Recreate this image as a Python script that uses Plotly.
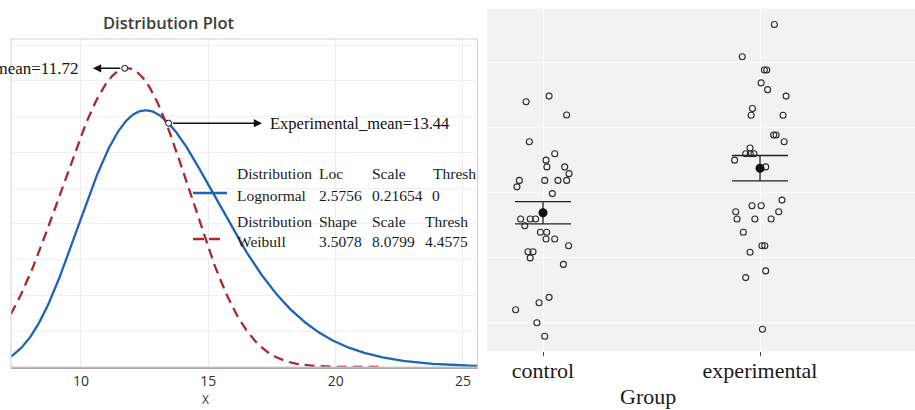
import numpy as np
import plotly.graph_objects as go

# ---------------- data ----------------
# Left panel: fitted distributions (Minitab distribution plot)
dist_names = ["Lognormal", "Weibull"]
lognormal_params = [2.5756, 0.21654, 0.0]     # loc, scale, thresh
weibull_params = [3.5078, 8.0799, 4.4575]     # shape, scale, thresh
lognormal_row = ["Lognormal", "2.5756", "0.21654", "0"]
weibull_row = ["Weibull", "3.5078", "8.0799", "4.4575"]
lognormal_header = ["Distribution", "Loc", "Scale", "Thresh"]
weibull_header = ["Distribution", "Shape", "Scale", "Thresh"]
group_means = [11.72, 13.44]
mean_labels = ["Control_mean=11.72", "Experimental_mean=13.44"]
x_ticks = [10, 15, 20, 25]

# Right panel: jittered observations with mean +/- SE
groups = ["control", "experimental"]
control_values = [16.0, 16.22, 15.49, 14.46, 14.0, 13.75, 13.49, 13.49, 13.23,
                  12.97, 12.97, 12.97, 12.97, 12.72, 12.46, 11.48, 11.48, 11.48,
                  11.22, 10.97, 10.97, 10.71, 10.71, 10.45, 10.22, 10.22, 9.98,
                  9.73, 8.46, 8.25, 7.98, 7.48, 6.96]
control_jitter = [-0.078, 0.028, 0.109, -0.063, 0.054, 0.014, 0.018, 0.100, 0.120,
                  -0.109, 0.008, 0.069, 0.109, -0.120, 0.043, -0.103, -0.059, -0.034,
                  -0.084, -0.012, 0.017, 0.014, 0.054, 0.118, -0.069, -0.046, -0.059,
                  0.094, 0.028, -0.018, -0.126, -0.028, 0.008]
experimental_values = [18.98, 17.74, 17.23, 17.23, 16.73, 16.47, 16.22, 15.74, 15.48,
                       15.48, 14.72, 14.72, 14.46, 14.22, 14.0, 14.0, 14.0, 13.75,
                       13.49, 12.21, 11.99, 11.99, 11.76, 11.76, 11.48, 11.48, 11.48,
                       10.97, 10.45, 10.45, 10.20, 9.48, 9.22, 7.23]
experimental_jitter = [0.066, -0.082, 0.020, 0.031, 0.005, 0.035, 0.120, -0.035, -0.041,
                       0.106, 0.063, 0.074, 0.111, -0.046, -0.066, -0.045, -0.028, -0.117,
                       0.026, 0.101, -0.037, 0.005, -0.112, 0.086, -0.106, -0.024, 0.051,
                       -0.077, 0.009, 0.022, -0.046, 0.026, -0.066, 0.011]
summary_means = [11.72, 13.44]
summary_se = [0.43, 0.49]
y2_grid = [7.5, 10, 12.5, 15, 17.5]

# ---------------- helpers ----------------
W, H = 915, 410


def px(p):
    return p / W


def py(p):
    return 1 - p / H


def lognormal_pdf(x, mu, s, th):
    z = x - th
    return np.exp(-(np.log(z) - mu) ** 2 / (2 * s * s)) / (z * s * np.sqrt(2 * np.pi))


def weibull_pdf(x, k, lam, th):
    z = (x - th) / lam
    return (k / lam) * z ** (k - 1) * np.exp(-z ** k)


BLUE = "#1f64b4"
RED = "#a8282c"
SERIF = "Liberation Serif"

fig = go.Figure()

# ---------------- left panel ----------------
xl = np.linspace(7.0, 25.8, 500)
fig.add_trace(go.Scatter(x=xl, y=lognormal_pdf(xl, *lognormal_params), mode="lines",
                         line=dict(color=BLUE, width=2.3), xaxis="x", yaxis="y",
                         name=dist_names[0], showlegend=False, hoverinfo="skip"))
xw = np.linspace(5.0, 21.8, 400)
fig.add_trace(go.Scatter(x=xw, y=weibull_pdf(xw, *weibull_params), mode="lines",
                         line=dict(color=RED, width=2.3, dash="10px,6px"), xaxis="x", yaxis="y",
                         name=dist_names[1], showlegend=False, hoverinfo="skip"))

y_ctrl = float(weibull_pdf(group_means[0], *weibull_params))
y_exp = float(lognormal_pdf(group_means[1], *lognormal_params))
fig.add_trace(go.Scatter(x=group_means, y=[y_ctrl, y_exp], mode="markers",
                         marker=dict(symbol="circle", size=6, color="white",
                                     line=dict(color="#111", width=1)),
                         xaxis="x", yaxis="y", showlegend=False, hoverinfo="skip"))

annotations = []
# arrows
annotations.append(dict(x=10.47, y=y_ctrl, ax=group_means[0], ay=y_ctrl, xref="x", yref="y",
                        axref="x", ayref="y", text="", showarrow=True, arrowhead=2,
                        arrowsize=1.1, arrowwidth=1.5, arrowcolor="#111", startstandoff=3))
annotations.append(dict(x=17.11, y=y_exp, ax=group_means[1], ay=y_exp, xref="x", yref="y",
                        axref="x", ayref="y", text="", showarrow=True, arrowhead=2,
                        arrowsize=1.1, arrowwidth=1.5, arrowcolor="#111", startstandoff=3))
annotations.append(dict(x=9.97, y=y_ctrl, xref="x", yref="y", text=mean_labels[0],
                        showarrow=False, xanchor="right", yanchor="middle",
                        font=dict(family=SERIF, size=17, color="#111")))
annotations.append(dict(x=17.36, y=y_exp, xref="x", yref="y", text=mean_labels[1],
                        showarrow=False, xanchor="left", yanchor="middle",
                        font=dict(family=SERIF, size=16.5, color="#111")))

# legend table
col_x1 = [235, 317, 370, 431]
col_x2 = [235, 317, 370, 423]
rows = [(lognormal_header, col_x1, 174), (lognormal_row, [235, 317, 370, 430], 195),
        (weibull_header, col_x2, 221), (weibull_row, [235, 317, 370, 423], 241)]
for texts, xs, yy in rows:
    for t, xx in zip(texts, xs):
        annotations.append(dict(x=px(xx), y=py(yy), xref="paper", yref="paper", text=t,
                                showarrow=False, xanchor="left", yanchor="middle",
                                font=dict(family=SERIF, size=15.5, color="#1a1a1a")))

# title and axis title
annotations.append(dict(x=px(169), y=py(22), xref="paper", yref="paper", text="Distribution Plot",
                        showarrow=False, xanchor="center", yanchor="middle",
                        font=dict(family="Open Sans", size=16.5, color="#3c3c3c", weight=600)))
annotations.append(dict(x=px(205), y=0, xref="paper", yref="paper", text="X",
                        showarrow=False, xanchor="center", yanchor="bottom",
                        font=dict(family="Open Sans", size=12, color="#333")))

# right panel axis title
annotations.append(dict(x=px(648), y=py(396), xref="paper", yref="paper", text="Group",
                        showarrow=False, xanchor="center", yanchor="middle",
                        font=dict(family=SERIF, size=22, color="#1a1a1a")))

shapes = []
# left frame
shapes.append(dict(type="rect", xref="x domain", yref="y domain", x0=0, x1=1, y0=0, y1=1,
                   line=dict(color="#cfcfcf", width=1), fillcolor="rgba(0,0,0,0)", layer="above"))
# legend line samples
shapes.append(dict(type="line", xref="paper", yref="paper", x0=px(193), x1=px(227),
                   y0=py(193), y1=py(193), line=dict(color=BLUE, width=2.3)))
shapes.append(dict(type="line", xref="paper", yref="paper", x0=px(193), x1=px(221),
                   y0=py(239), y1=py(239), line=dict(color=RED, width=2.3, dash="11px,5px")))
# right panel background
shapes.append(dict(type="rect", xref="x2 domain", yref="y2 domain", x0=0, x1=1, y0=0, y1=1,
                   line=dict(width=0), fillcolor="#f2f2f2", layer="below"))

# ---------------- right panel ----------------
fig.add_trace(go.Scatter(x=[1 + j for j in control_jitter], y=control_values, mode="markers",
                         marker=dict(symbol="circle-open", size=6, color="#2a2a2a",
                                     line=dict(width=1.1)),
                         xaxis="x2", yaxis="y2", name=groups[0], showlegend=False))
fig.add_trace(go.Scatter(x=[2 + j for j in experimental_jitter], y=experimental_values,
                         mode="markers",
                         marker=dict(symbol="circle-open", size=6, color="#2a2a2a",
                                     line=dict(width=1.1)),
                         xaxis="x2", yaxis="y2", name=groups[1], showlegend=False))
fig.add_trace(go.Scatter(x=[1, 2], y=summary_means, mode="markers",
                         marker=dict(symbol="circle", size=9, color="#111"),
                         error_y=dict(type="data", array=summary_se, visible=True,
                                      color="#222", thickness=1.3, width=28),
                         xaxis="x2", yaxis="y2", showlegend=False))

fig.update_layout(
    width=W, height=H, autosize=False,
    margin=dict(l=0, r=0, t=0, b=0),
    paper_bgcolor="white", plot_bgcolor="rgba(0,0,0,0)",
    showlegend=False,
    xaxis=dict(domain=[px(11), px(477.5)], range=[7.252, 25.57], tickvals=x_ticks,
               showgrid=True, gridcolor="#ececec", gridwidth=1, zeroline=False,
               showline=True, linecolor="#a8a8a8", linewidth=2,
               ticks="", tickfont=dict(family="Open Sans", size=14, color="#333"), anchor="y"),
    yaxis=dict(domain=[py(367), py(39)], range=[0, 0.1834], dtick=0.02, tick0=0,
               showgrid=True, gridcolor="#f0f0f0", gridwidth=1, zeroline=False,
               showticklabels=False, ticks="", anchor="x"),
    xaxis2=dict(domain=[px(487), 1], range=[0.742, 2.714], tickvals=[1, 2], ticktext=groups,
                showgrid=True, gridcolor="white", gridwidth=1, zeroline=False, showline=False,
                ticks="outside", ticklen=4, tickcolor="#444", tickwidth=1,
                ticklabelstandoff=-4,
                tickfont=dict(family=SERIF, size=22, color="#1a1a1a"), anchor="y2"),
    yaxis2=dict(domain=[py(351), py(9)], range=[6.39, 19.58], tickvals=y2_grid,
                showgrid=True, gridcolor="white", gridwidth=1, zeroline=False,
                showticklabels=False, ticks="", anchor="x2"),
    annotations=annotations,
    shapes=shapes,
)

fig.write_html("out.html", config={"displayModeBar": False},
               post_script="document.body.style.margin='0';document.body.style.overflow='hidden';")
